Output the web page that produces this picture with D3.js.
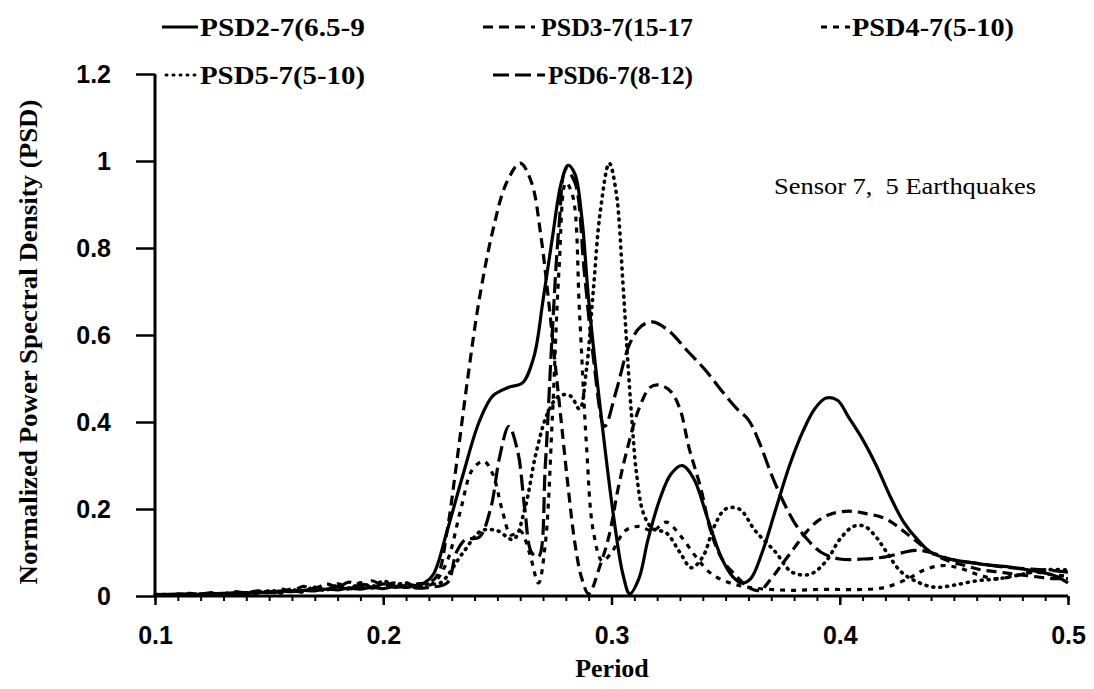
<!DOCTYPE html>
<html>
<head>
<meta charset="utf-8">
<script src="https://cdn.jsdelivr.net/npm/d3@7"></script>
<style>
  body { margin: 0; background: #fff; }
  svg { display: block; }
  .tick text { font-family: "Liberation Sans", Arial, sans-serif; font-weight: bold; font-size: 25px; fill: #000; }
  .serif { font-family: "Liberation Serif", "Times New Roman", serif; fill: #000; }
</style>
</head>
<body>
<div id="chart"></div>
<script>
// period (s) and normalized PSD
var psd2 = [[0.1,0.004],[0.105,0.003],[0.11,0.005],[0.115,0.004],[0.12,0.004],[0.125,0.006],[0.13,0.005],[0.135,0.007],[0.14,0.006],[0.145,0.009],[0.15,0.008],[0.155,0.011],[0.16,0.01],[0.165,0.013],[0.17,0.012],[0.175,0.016],[0.18,0.014],[0.185,0.018],[0.19,0.016],[0.195,0.02],[0.2,0.017],[0.205,0.022],[0.21,0.02],[0.215,0.025],
  [0.218,0.03],[0.222,0.05],[0.228,0.15],[0.235,0.28],[0.242,0.40],[0.248,0.46],[0.255,0.48],[0.261,0.49],[0.266,0.55],[0.27,0.68],[0.274,0.82],[0.278,0.95],[0.281,0.99],[0.284,0.97],[0.287,0.87],[0.29,0.68],[0.296,0.39],[0.301,0.18],[0.305,0.05],[0.308,0.005],[0.312,0.04],[0.316,0.13],[0.321,0.22],[0.326,0.28],[0.331,0.30],[0.336,0.27],[0.342,0.18],[0.348,0.09],[0.353,0.045],[0.357,0.03],[0.361,0.04],[0.366,0.1],[0.372,0.2],[0.378,0.3],[0.384,0.38],[0.389,0.43],[0.394,0.455],[0.399,0.45],[0.404,0.41],[0.41,0.36],[0.416,0.3],[0.422,0.23],[0.428,0.17],[0.434,0.13],[0.44,0.10],[0.448,0.085],[0.456,0.078],[0.464,0.072],[0.472,0.068],[0.48,0.062],[0.488,0.055],[0.495,0.045],[0.5,0.03]];

var psd3 = [[0.1,0.002],[0.105,0.004],[0.11,0.003],[0.115,0.006],[0.12,0.004],[0.125,0.008],[0.13,0.005],[0.135,0.01],[0.14,0.007],[0.145,0.012],[0.15,0.009],[0.155,0.016],[0.16,0.012],[0.165,0.022],[0.17,0.016],[0.175,0.028],[0.18,0.02],[0.185,0.032],[0.19,0.022],[0.195,0.035],[0.2,0.024],[0.205,0.03],[0.21,0.02],[0.215,0.028],[0.22,0.03],
  [0.224,0.05],[0.228,0.15],[0.232,0.3],[0.237,0.5],[0.242,0.68],[0.248,0.84],[0.254,0.95],[0.26,0.995],[0.265,0.95],[0.269,0.83],[0.272,0.7],[0.275,0.55],[0.278,0.4],[0.281,0.25],[0.284,0.12],[0.287,0.04],[0.29,0.005],[0.295,0.07],[0.299,0.14],[0.303,0.25],[0.307,0.34],[0.312,0.43],[0.317,0.48],[0.321,0.485],[0.326,0.47],[0.33,0.43],[0.334,0.34],[0.339,0.25],[0.344,0.14],[0.349,0.08],[0.354,0.05],[0.36,0.02],[0.365,0.013],[0.37,0.04],[0.375,0.075],[0.38,0.11],[0.385,0.145],[0.391,0.175],[0.397,0.19],[0.404,0.195],[0.411,0.19],[0.419,0.18],[0.424,0.165],[0.429,0.145],[0.435,0.12],[0.44,0.1],[0.448,0.08],[0.455,0.07],[0.462,0.06],[0.47,0.055],[0.477,0.05],[0.485,0.045],[0.493,0.04],[0.5,0.04]];

var psd4 = [[0.1,0.003],[0.11,0.002],[0.12,0.005],[0.13,0.004],[0.14,0.008],[0.145,0.005],[0.15,0.012],[0.155,0.008],[0.16,0.016],[0.165,0.01],[0.17,0.022],[0.175,0.014],[0.18,0.028],[0.185,0.018],[0.19,0.03],[0.195,0.02],[0.2,0.032],[0.205,0.022],[0.21,0.03],[0.215,0.02],
  [0.222,0.03],[0.228,0.08],[0.234,0.2],[0.239,0.29],[0.244,0.31],[0.248,0.28],[0.252,0.2],[0.256,0.14],[0.26,0.15],[0.264,0.1],[0.268,0.03],[0.271,0.12],[0.274,0.4],[0.277,0.75],[0.28,0.95],[0.283,0.92],[0.286,0.65],[0.289,0.35],[0.292,0.15],[0.296,0.08],[0.3,0.1],[0.306,0.15],[0.312,0.16],[0.318,0.15],[0.324,0.17],[0.33,0.14],[0.337,0.09],[0.344,0.05],[0.352,0.03],[0.36,0.02],[0.37,0.015],[0.38,0.013],[0.39,0.015],[0.4,0.015],[0.41,0.015],[0.42,0.02],[0.43,0.04],[0.437,0.06],[0.445,0.07],[0.452,0.065],[0.46,0.05],[0.468,0.04],[0.476,0.045],[0.484,0.055],[0.492,0.05],[0.5,0.045]];

var psd5 = [[0.1,0.002],[0.11,0.003],[0.12,0.003],[0.13,0.005],[0.14,0.006],[0.15,0.01],[0.155,0.007],[0.16,0.014],[0.165,0.01],[0.17,0.02],[0.175,0.014],[0.18,0.024],[0.185,0.016],[0.19,0.03],[0.195,0.022],[0.2,0.034],[0.205,0.026],[0.21,0.03],[0.215,0.022],[0.22,0.028],
  [0.225,0.03],[0.235,0.1],[0.243,0.15],[0.25,0.15],[0.257,0.13],[0.262,0.2],[0.267,0.33],[0.272,0.42],[0.277,0.46],[0.282,0.46],[0.286,0.43],[0.289,0.52],[0.292,0.7],[0.295,0.88],[0.299,0.995],[0.302,0.93],[0.305,0.72],[0.307,0.55],[0.309,0.4],[0.311,0.28],[0.314,0.19],[0.318,0.155],[0.324,0.145],[0.33,0.1],[0.335,0.065],[0.34,0.09],[0.345,0.16],[0.35,0.2],[0.356,0.2],[0.363,0.15],[0.372,0.1],[0.379,0.055],[0.387,0.05],[0.394,0.08],[0.4,0.13],[0.406,0.16],[0.411,0.16],[0.416,0.135],[0.42,0.105],[0.427,0.055],[0.435,0.03],[0.442,0.02],[0.45,0.025],[0.46,0.035],[0.47,0.04],[0.48,0.05],[0.49,0.06],[0.5,0.06]];

var psd6 = [[0.1,0.003],[0.11,0.004],[0.12,0.004],[0.13,0.006],[0.14,0.007],[0.15,0.009],[0.16,0.012],[0.165,0.009],[0.17,0.018],[0.175,0.012],[0.18,0.022],[0.185,0.015],[0.19,0.026],[0.195,0.018],[0.2,0.028],[0.205,0.02],[0.21,0.024],[0.215,0.018],[0.22,0.02],
  [0.228,0.03],[0.232,0.1],[0.236,0.13],[0.242,0.135],[0.247,0.2],[0.251,0.32],[0.255,0.39],[0.259,0.33],[0.262,0.2],[0.265,0.1],[0.268,0.09],[0.271,0.3],[0.274,0.6],[0.277,0.85],[0.28,0.98],[0.284,0.95],[0.288,0.75],[0.292,0.55],[0.297,0.39],[0.302,0.47],[0.308,0.58],[0.313,0.62],[0.318,0.63],[0.325,0.61],[0.333,0.565],[0.341,0.52],[0.349,0.467],[0.355,0.43],[0.36,0.405],[0.365,0.35],[0.37,0.28],[0.375,0.22],[0.38,0.17],[0.385,0.135],[0.392,0.1],[0.4,0.085],[0.41,0.085],[0.42,0.09],[0.433,0.105],[0.44,0.1],[0.448,0.085],[0.46,0.075],[0.475,0.065],[0.49,0.06],[0.5,0.055]];

var seriesNames = ["PSD2-7(6.5-9", "PSD3-7(15-17", "PSD4-7(5-10)", "PSD5-7(5-10)", "PSD6-7(8-12)"];
var seriesData = [psd2, psd3, psd4, psd5, psd6];
var xTicks = [0.1, 0.2, 0.3, 0.4, 0.5];
var yTicks = [0, 0.2, 0.4, 0.6, 0.8, 1, 1.2];
var yTickLabels = ["0", "0.2", "0.4", "0.6", "0.8", "1", "1.2"];

var svgWidth = 1094, svgHeight = 689;
var dashes = ["none", "10,6", "5,6", "1,6", "16,6"];
var legendPos = [
  {x1: 162, x2: 198, tx: 200, y: 27, w: 165},
  {x1: 483, x2: 535, tx: 541, y: 27, w: 152},
  {x1: 821, x2: 850, tx: 852, y: 27, w: 162},
  {x1: 166, x2: 197, tx: 200, y: 75, w: 165},
  {x1: 493, x2: 545, tx: 548, y: 75, w: 145}
];

var svg = d3.select("#chart").append("svg")
  .attr("width", svgWidth)
  .attr("height", svgHeight);

var x = d3.scaleLinear().domain([0.1, 0.5]).range([155, 1068]);
var y = d3.scaleLinear().domain([0, 1.2]).range([596, 74]);

// x axis with minor ticks every 0.01
svg.append("g")
  .attr("transform", `translate(0, ${y(0)})`)
  .call(d3.axisBottom(x).tickValues(d3.range(10, 51).map(d => d / 100)).tickSize(5).tickFormat(""))
  .call(g => g.select(".domain").remove())
  .selectAll("line").attr("stroke", "#000").attr("stroke-width", 2);

var xAxis = svg.append("g")
  .attr("transform", `translate(0, ${y(0)})`)
  .call(d3.axisBottom(x).tickValues(xTicks).tickSize(9).tickPadding(21).tickFormat(d => d));
xAxis.select(".domain").attr("stroke", "#000").attr("stroke-width", 3).attr("d", `M${x(0.1)},0H${x(0.5)}`);
xAxis.selectAll(".tick line").attr("stroke", "#000").attr("stroke-width", 2.5);

var yAxis = svg.append("g")
  .attr("transform", `translate(${x(0.1)}, 0)`)
  .call(d3.axisLeft(y).tickValues(yTicks).tickSize(19).tickPadding(25).tickFormat((d, i) => yTickLabels[i]));
yAxis.select(".domain").attr("stroke", "#000").attr("stroke-width", 3).attr("d", `M0,${y(1.2)}V${y(0)}`);
yAxis.selectAll(".tick line").attr("stroke", "#000").attr("stroke-width", 2.5);

var line = d3.line()
  .x(d => x(d[0]))
  .y(d => y(d[1]))
  .curve(d3.curveCatmullRom.alpha(0.5));

svg.selectAll(".psd")
  .data(seriesData)
  .enter()
  .append("path")
  .attr("class", "psd")
  .attr("d", line)
  .attr("fill", "none")
  .attr("stroke", "#000")
  .attr("stroke-width", (d, i) => i == 3 ? 3.6 : 3.2)
  .attr("stroke-linecap", (d, i) => i == 3 ? "round" : "butt")
  .attr("stroke-dasharray", (d, i) => dashes[i]);

// legend
var legend = svg.selectAll(".legend")
  .data(seriesNames)
  .enter()
  .append("g")
  .attr("class", "legend");
legend.append("line")
  .attr("x1", (d, i) => legendPos[i].x1)
  .attr("x2", (d, i) => legendPos[i].x2)
  .attr("y1", (d, i) => legendPos[i].y)
  .attr("y2", (d, i) => legendPos[i].y)
  .attr("stroke", "#000")
  .attr("stroke-width", 3)
  .attr("stroke-linecap", (d, i) => i == 3 ? "round" : "butt")
  .attr("stroke-dasharray", (d, i) => i == 2 ? "6,6" : dashes[i]);
legend.append("text")
  .attr("class", "serif")
  .attr("x", (d, i) => legendPos[i].tx)
  .attr("y", (d, i) => legendPos[i].y + 9)
  .attr("textLength", (d, i) => legendPos[i].w)
  .attr("lengthAdjust", "spacingAndGlyphs")
  .style("font-size", "26px")
  .style("font-weight", "bold")
  .text(d => d);

svg.append("text")
  .attr("class", "serif")
  .attr("x", 774)
  .attr("y", 194)
  .attr("textLength", 262)
  .attr("lengthAdjust", "spacingAndGlyphs")
  .style("font-size", "24px")
  .style("white-space", "pre")
  .text("Sensor 7,  5 Earthquakes");

svg.append("text")
  .attr("class", "serif")
  .attr("transform", "translate(37, 342) rotate(-90)")
  .attr("text-anchor", "middle")
  .attr("textLength", 485)
  .attr("lengthAdjust", "spacingAndGlyphs")
  .style("font-size", "26px")
  .style("font-weight", "bold")
  .text("Normalized Power Spectral Density (PSD)");

svg.append("text")
  .attr("class", "serif")
  .attr("x", 612)
  .attr("y", 677)
  .attr("text-anchor", "middle")
  .style("font-size", "26px")
  .style("font-weight", "bold")
  .text("Period");
</script>
</body>
</html>
